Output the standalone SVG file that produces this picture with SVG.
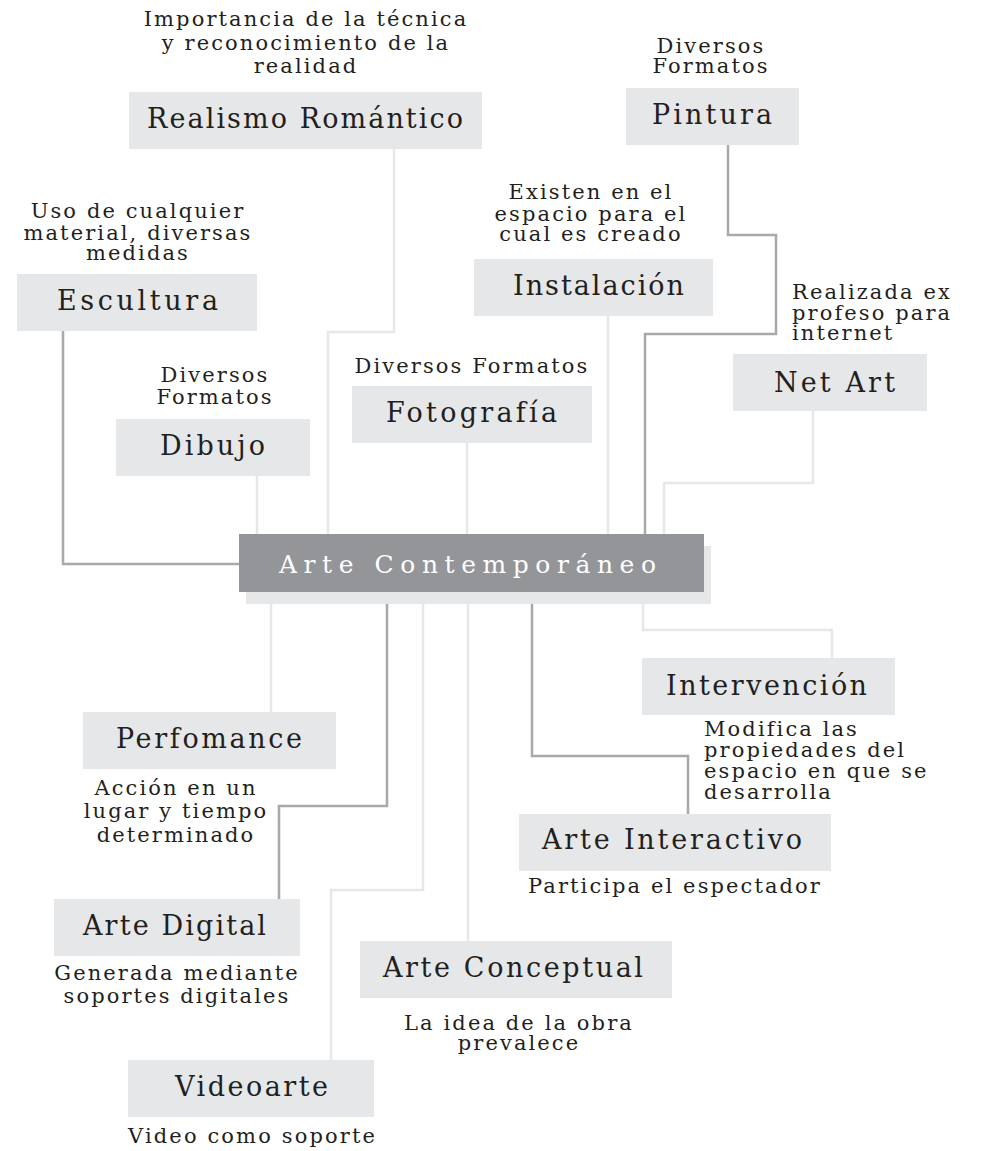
<svg xmlns="http://www.w3.org/2000/svg" width="982" height="1151" viewBox="0 0 982 1151">
<style>
.box{fill:#e6e7e8}
.lbl{font-family:"DejaVu Serif","Liberation Serif",serif;font-size:27px;fill:#231f20}
.ann{font-family:"DejaVu Serif","Liberation Serif",serif;font-size:21px;fill:#231f20;letter-spacing:2.1px}
.c{text-anchor:middle}
.lt{fill:none;stroke:#e6e7e8;stroke-width:2.5}
.dk{fill:none;stroke:#a7a9ac;stroke-width:2.5}
</style>
<rect width="982" height="1151" fill="#ffffff"/>
<g id="connectors">
<path class="lt" d="M394,149 V332 H328 V540"/>
<path class="dk" d="M63,331 V564 H245"/>
<path class="lt" d="M257,476 V540"/>
<path class="lt" d="M467,443 V540"/>
<path class="lt" d="M608,315 V540"/>
<path class="dk" d="M728,145 V235 H776 V334 H645 V540"/>
<path class="lt" d="M813,411 V483 H664 V540"/>
<path class="lt" d="M643,598 V630 H832 V660"/>
<path class="dk" d="M532,598 V756 H688 V816"/>
<path class="lt" d="M271,598 V714"/>
<path class="dk" d="M387,598 V806 H279 V901"/>
<path class="lt" d="M423,598 V890 H331 V1062"/>
<path class="lt" d="M468,598 V943"/>
</g>
<g id="realismo">
<text class="ann c" x="306" y="26">Importancia de la técnica</text>
<text class="ann c" x="306" y="50">y reconocimiento de la</text>
<text class="ann c" x="306" y="73">realidad</text>
<rect class="box" x="129" y="92" width="353" height="57"/>
<text class="lbl" x="147" y="128" textLength="316" lengthAdjust="spacing">Realismo Romántico</text>
</g>
<g id="pintura">
<text class="ann c" x="711" y="53">Diversos</text>
<text class="ann c" x="711" y="73">Formatos</text>
<rect class="box" x="626" y="88" width="173" height="57"/>
<text class="lbl" x="652" y="124" textLength="120" lengthAdjust="spacing">Pintura</text>
</g>
<g id="escultura">
<text class="ann c" x="138" y="218">Uso de cualquier</text>
<text class="ann c" x="138" y="240">material, diversas</text>
<text class="ann c" x="138" y="260">medidas</text>
<rect class="box" x="17" y="274" width="240" height="57"/>
<text class="lbl" x="57" y="310" textLength="161" lengthAdjust="spacing">Escultura</text>
</g>
<g id="instalacion">
<text class="ann c" x="591" y="199">Existen en el</text>
<text class="ann c" x="591" y="221">espacio para el</text>
<text class="ann c" x="591" y="241">cual es creado</text>
<rect class="box" x="474" y="259" width="239" height="57"/>
<text class="lbl" x="513" y="295" textLength="171" lengthAdjust="spacing">Instalación</text>
</g>
<g id="netart">
<text class="ann" x="792" y="299">Realizada ex</text>
<text class="ann" x="792" y="320">profeso para</text>
<text class="ann" x="792" y="340">internet</text>
<rect class="box" x="733" y="354" width="194" height="57"/>
<text class="lbl" x="774" y="392" textLength="121" lengthAdjust="spacing">Net Art</text>
</g>
<g id="fotografia">
<text class="ann c" x="472" y="373">Diversos Formatos</text>
<rect class="box" x="352" y="386" width="240" height="57"/>
<text class="lbl" x="386" y="422" textLength="171" lengthAdjust="spacing">Fotografía</text>
</g>
<g id="dibujo">
<text class="ann c" x="215" y="382">Diversos</text>
<text class="ann c" x="215" y="404">Formatos</text>
<rect class="box" x="116" y="419" width="194" height="57"/>
<text class="lbl" x="160" y="455" textLength="105" lengthAdjust="spacing">Dibujo</text>
</g>
<g id="central">
<rect x="246" y="546" width="465" height="58" fill="#e6e7e8"/>
<rect x="239" y="534" width="465" height="58" fill="#939598"/>
<text x="279" y="573" font-family="DejaVu Serif, Liberation Serif, serif" font-size="25" fill="#ffffff" textLength="377" lengthAdjust="spacing">Arte Contemporáneo</text>
</g>
<g id="intervencion">
<rect class="box" x="642" y="658" width="253" height="57"/>
<text class="lbl" x="666" y="695" textLength="201" lengthAdjust="spacing">Intervención</text>
<text class="ann" x="704" y="736">Modifica las</text>
<text class="ann" x="704" y="757">propiedades del</text>
<text class="ann" x="704" y="778">espacio en que se</text>
<text class="ann" x="704" y="799">desarrolla</text>
</g>
<g id="perfomance">
<rect class="box" x="83" y="712" width="253" height="57"/>
<text class="lbl" x="116" y="748" textLength="186" lengthAdjust="spacing">Perfomance</text>
<text class="ann c" x="176" y="795">Acción en un</text>
<text class="ann c" x="176" y="818">lugar y tiempo</text>
<text class="ann c" x="176" y="842">determinado</text>
</g>
<g id="interactivo">
<rect class="box" x="519" y="814" width="312" height="57"/>
<text class="lbl" x="542" y="849" textLength="260" lengthAdjust="spacing">Arte Interactivo</text>
<text class="ann" x="528" y="893" textLength="294" lengthAdjust="spacing">Participa el espectador</text>
</g>
<g id="digital">
<rect class="box" x="54" y="899" width="246" height="57"/>
<text class="lbl" x="83" y="935" textLength="183" lengthAdjust="spacing">Arte Digital</text>
<text class="ann c" x="177" y="980">Generada mediante</text>
<text class="ann c" x="177" y="1003">soportes digitales</text>
</g>
<g id="conceptual">
<rect class="box" x="360" y="941" width="312" height="57"/>
<text class="lbl" x="383" y="977" textLength="260" lengthAdjust="spacing">Arte Conceptual</text>
<text class="ann c" x="519" y="1030">La idea de la obra</text>
<text class="ann c" x="519" y="1050">prevalece</text>
</g>
<g id="videoarte">
<rect class="box" x="128" y="1060" width="246" height="57"/>
<text class="lbl" x="175" y="1096" textLength="153" lengthAdjust="spacing">Videoarte</text>
<text class="ann" x="128" y="1143" textLength="249" lengthAdjust="spacing">Video como soporte</text>
</g>
</svg>
